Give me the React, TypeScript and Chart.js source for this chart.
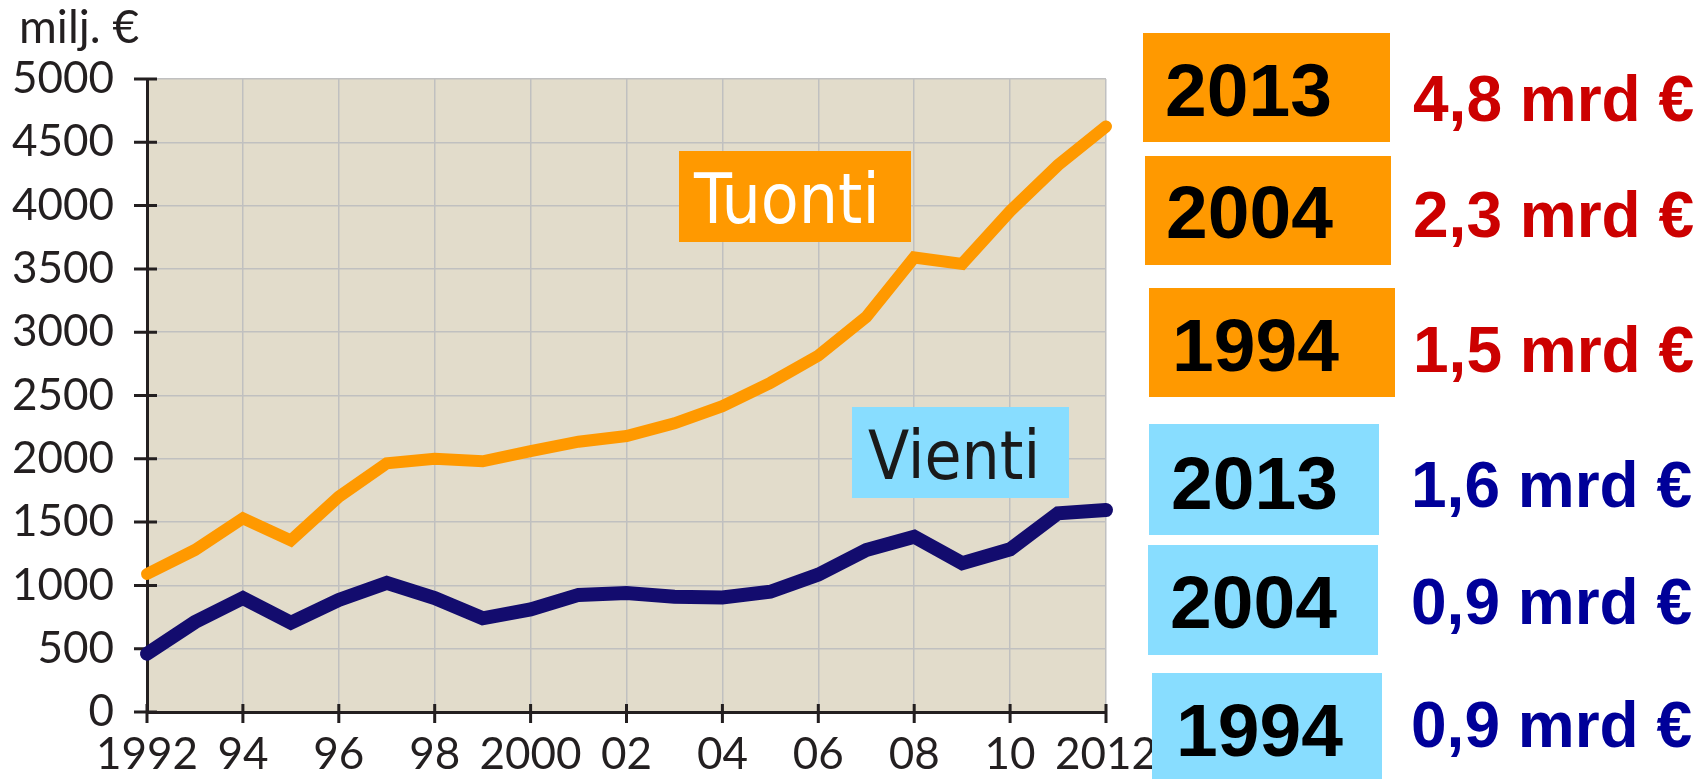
import React, { useEffect, useRef } from "react";
import { Chart, registerables } from "chart.js";

Chart.register(...registerables);

const years = [1992, 1993, 1994, 1995, 1996, 1997, 1998, 1999, 2000, 2001, 2002, 2003, 2004, 2005, 2006, 2007, 2008, 2009, 2010, 2011, 2012];
const xTickLabels = ["1992", "", "94", "", "96", "", "98", "", "2000", "", "02", "", "04", "", "06", "", "08", "", "10", "", "2012"];
const tuonti = [1090, 1280, 1530, 1355, 1700, 1965, 2000, 1980, 2060, 2135, 2180, 2280, 2415, 2600, 2815, 3120, 3590, 3540, 3955, 4320, 4625];
const vienti = [460, 710, 900, 705, 885, 1020, 900, 740, 810, 925, 940, 910, 905, 950, 1085, 1280, 1385, 1175, 1285, 1570, 1595];

const yMin = 0;
const yMax = 5000;
const yStep = 500;

const unitLabel = "milj. €";
const seriesNames = ["Tuonti", "Vienti"];

const tuontiBoxYears = ["2013", "2004", "1994"];
const tuontiBoxValues = ["4,8 mrd €", "2,3 mrd €", "1,5 mrd €"];
const vientiBoxYears = ["2013", "2004", "1994"];
const vientiBoxValues = ["1,6 mrd €", "0,9 mrd €", "0,9 mrd €"];

const ORANGE = "#FF9900";
const NAVY = "#130C6E";
const LIGHTBLUE = "#88DDFF";
const AXIS = "#231F20";
const GRID = "#C0C0C0";
const PLOTBG = "#E2DCCB";
const AXISFONT = "Lato, 'Open Sans', sans-serif";

const bgPlugin = {
  id: "plotBg",
  beforeDraw(chart: any) {
    const { ctx, chartArea } = chart;
    ctx.save();
    ctx.fillStyle = PLOTBG;
    ctx.fillRect(chartArea.left, chartArea.top, chartArea.right - chartArea.left, chartArea.bottom - chartArea.top);
    ctx.restore();
  },
};

const crossTicksPlugin = {
  id: "crossTicks",
  beforeDatasetsDraw(chart: any) {
    const { ctx, chartArea } = chart;
    const x = chart.scales.x;
    const y = chart.scales.y;
    ctx.save();
    ctx.strokeStyle = AXIS;
    ctx.lineWidth = 3;
    ctx.beginPath();
    y.ticks.forEach((t: any) => {
      const py = y.getPixelForValue(t.value);
      ctx.moveTo(chartArea.left - 13, py);
      ctx.lineTo(chartArea.left + 10, py);
    });
    years.forEach((_, i) => {
      if (xTickLabels[i] === "") return;
      const px = x.getPixelForValue(i);
      ctx.moveTo(px, chartArea.bottom - 8);
      ctx.lineTo(px, chartArea.bottom + 11);
    });
    ctx.stroke();
    ctx.restore();
  },
};

function ChartCanvas() {
  const ref = useRef<HTMLCanvasElement | null>(null);
  useEffect(() => {
    if (!ref.current) return;
    const chart = new Chart(ref.current, {
      type: "line",
      data: {
        labels: years.map(String),
        datasets: [
          {
            label: seriesNames[1],
            data: vienti,
            borderColor: NAVY,
            backgroundColor: NAVY,
            borderWidth: 14,
            pointRadius: 0,
            tension: 0,
            borderCapStyle: "round",
            borderJoinStyle: "miter",
            clip: false,
          },
          {
            label: seriesNames[0],
            data: tuonti,
            borderColor: ORANGE,
            backgroundColor: ORANGE,
            borderWidth: 12,
            pointRadius: 0,
            tension: 0,
            borderCapStyle: "round",
            borderJoinStyle: "miter",
            clip: false,
          },
        ],
      },
      options: {
        animation: false,
        responsive: false,
        maintainAspectRatio: false,
        layout: { padding: { left: 0, top: 79, right: 593, bottom: 0 } },
        plugins: {
          legend: { display: false },
          tooltip: { enabled: false },
          title: { display: false },
        },
        scales: {
          x: {
            type: "category",
            offset: false,
            afterFit: (s: any) => {
              s.height = 67;
            },
            grid: {
              color: (c: any) => (c.index % 2 === 0 ? GRID : "rgba(0,0,0,0)"),
              lineWidth: 1.5,
              drawTicks: false,
              tickLength: 0,
            },
            border: { display: true, color: AXIS, width: 3 },
            ticks: {
              autoSkip: false,
              maxRotation: 0,
              minRotation: 0,
              padding: 16,
              color: AXIS,
              font: { family: AXISFONT, size: 44 },
              callback: (_v: any, i: number) => xTickLabels[i],
            },
          },
          y: {
            min: yMin,
            max: yMax,
            afterFit: (s: any) => {
              s.width = 147;
            },
            grid: { color: GRID, lineWidth: 1.5, drawTicks: false, tickLength: 0 },
            border: { display: true, color: AXIS, width: 3 },
            ticks: {
              stepSize: yStep,
              padding: 33,
              color: AXIS,
              font: { family: AXISFONT, size: 44 },
              callback: (v: any) => String(v),
            },
          },
        },
      },
      plugins: [bgPlugin, crossTicksPlugin],
    });
    return () => chart.destroy();
  }, []);
  return <canvas ref={ref} width={1699} height={779} style={{ position: "absolute", left: 0, top: 0, width: 1699, height: 779 }} />;
}

type BoxSpec = { l: number; t: number; r: number; b: number; tx: number; ty: number };

const tuontiBoxes: BoxSpec[] = [
  { l: 1143, t: 33, r: 1390, b: 142, tx: 1165, ty: 90 },
  { l: 1145, t: 156, r: 1391, b: 265, tx: 1166, ty: 212 },
  { l: 1149, t: 288, r: 1395, b: 397, tx: 1172, ty: 345 },
];
const vientiBoxes: BoxSpec[] = [
  { l: 1149, t: 424, r: 1379, b: 535, tx: 1171, ty: 483 },
  { l: 1148, t: 545, r: 1378, b: 655, tx: 1170, ty: 602 },
  { l: 1152, t: 673, r: 1382, b: 790, tx: 1176, ty: 730 },
];
const tuontiValPos = [98, 214, 349];
const vientiValPos = [484, 601, 724];

const ARIAL = "'Liberation Sans', Arial, sans-serif";

function TextAt(props: { x: number; cy: number; size: number; color: string; family: string; weight?: number; children: any; k?: number }) {
  const k = props.k ?? 0.49;
  return (
    <div
      style={{
        position: "absolute",
        left: props.x,
        top: props.cy - props.size * k,
        fontSize: props.size,
        lineHeight: 1,
        height: props.size,
        fontFamily: props.family,
        fontWeight: props.weight ?? 400,
        color: props.color,
        whiteSpace: "nowrap",
      }}
    >
      {props.children}
    </div>
  );
}

export default function App() {
  return (
    <div style={{ position: "absolute", left: 0, top: 0, width: 1699, height: 779, overflow: "hidden", background: "#fff" }}>
      <ChartCanvas />
      <div
        style={{
          position: "absolute",
          left: 19,
          top: 3,
          fontFamily: AXISFONT,
          fontSize: 46,
          lineHeight: 1,
          color: AXIS,
          whiteSpace: "nowrap",
        }}
      >
        {unitLabel}
      </div>
      {/* series labels */}
      <div style={{ position: "absolute", left: 679, top: 151, width: 232, height: 91, background: ORANGE }} />
      <TextAt x={694} cy={198} size={69} color="#ffffff" family="'DejaVu Sans Condensed', 'DejaVu Sans', sans-serif" k={0.48}>
        {seriesNames[0]}
      </TextAt>
      <div style={{ position: "absolute", left: 852, top: 407, width: 217, height: 91, background: LIGHTBLUE }} />
      <TextAt x={868} cy={455} size={67} color="#1a1a1a" family="'DejaVu Sans Condensed', 'DejaVu Sans', sans-serif" k={0.48}>
        {seriesNames[1]}
      </TextAt>
      {/* right side boxes */}
      {tuontiBoxes.map((b, i) => (
        <React.Fragment key={"t" + i}>
          <div style={{ position: "absolute", left: b.l, top: b.t, width: b.r - b.l, height: b.b - b.t, background: ORANGE }} />
          <TextAt x={b.tx} cy={b.ty} size={75} color="#000" family={ARIAL} weight={700}>
            {tuontiBoxYears[i]}
          </TextAt>
          <TextAt x={1413} cy={tuontiValPos[i]} size={64} color="#CC0000" family={ARIAL} weight={700}>
            {tuontiBoxValues[i]}
          </TextAt>
        </React.Fragment>
      ))}
      {vientiBoxes.map((b, i) => (
        <React.Fragment key={"v" + i}>
          <div style={{ position: "absolute", left: b.l, top: b.t, width: b.r - b.l, height: b.b - b.t, background: LIGHTBLUE }} />
          <TextAt x={b.tx} cy={b.ty} size={75} color="#000" family={ARIAL} weight={700}>
            {vientiBoxYears[i]}
          </TextAt>
          <TextAt x={1411} cy={vientiValPos[i]} size={64} color="#000099" family={ARIAL} weight={700}>
            {vientiBoxValues[i]}
          </TextAt>
        </React.Fragment>
      ))}
    </div>
  );
}
